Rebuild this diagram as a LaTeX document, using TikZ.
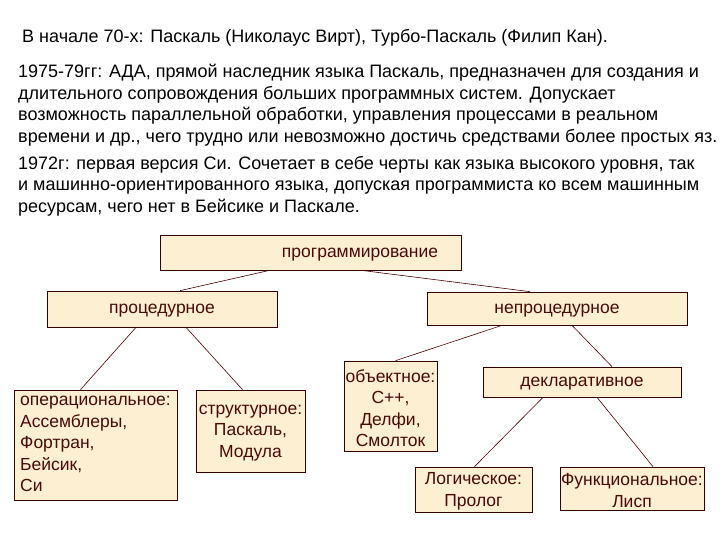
\documentclass[tikz,border=0pt]{standalone}
\usepackage{fontspec}
\setmainfont{Liberation Sans}
\begin{document}
\begin{tikzpicture}[x=1pt,y=-1pt,
  box/.style={draw=black!80!red,fill=boxfill,line width=0.7pt,inner sep=0pt},
  txt/.style={text=txtcol,font=\fontsize{17.5}{21.5}\selectfont,inner sep=0pt,yshift=-2pt},
  para/.style={anchor=north west,align=left,inner sep=0pt,font=\fontsize{18}{21.5}\selectfont},
  con/.style={draw=black!70!red,line width=0.6pt}]
\definecolor{boxfill}{HTML}{FCEFD2}
\definecolor{txtcol}{HTML}{4A0A0A}
\useasboundingbox (0,0) rectangle (720,540);
\node[para] (p1) at (22,29) {В начале 70-х: Паскаль (Николаус Вирт), Турбо-Паскаль (Филип Кан).};
\node[para] (p2) at (18,64) {1975-79гг: АДА, прямой наследник языка Паскаль, предназначен для создания и\\длительного сопровождения больших программных систем. Допускает\\возможность параллельной обработки, управления процессами в реальном\\времени и др., чего трудно или невозможно достичь средствами более простых яз.};
\node[para] (p3) at (18,156) {1972г: первая версия Си. Сочетает в себе черты как языка высокого уровня, так\\и машинно-ориентированного языка, допуская программиста ко всем машинным\\ресурсам, чего нет в Бейсике и Паскале.};

\node[box,minimum width=301,minimum height=35] (prog) at (310.5,252.5) {};
\node[txt] (progt) at (360,253) {программирование};
\node[box,minimum width=230,minimum height=36] (proc) at (162,309) {};
\node[txt] (proct) at (proc) {процедурное};
\node[box,minimum width=260,minimum height=33] (nproc) at (557,308.5) {};
\node[txt] (nproct) at (557,309) {непроцедурное};
\node[box,minimum width=163,minimum height=110] (op) at (95.5,445) {};
\node[txt,anchor=north west,align=left] (opt) at (20,394) {операциональное:\\Ассемблеры,\\Фортран,\\Бейсик,\\Си};
\node[box,minimum width=109,minimum height=82] (st) at (250.5,431) {};
\node[txt,align=center] (stt) at (250.5,431) {структурное:\\Паскаль,\\Модула};
\node[box,minimum width=93,minimum height=90] (ob) at (390.5,406) {};
\node[txt,align=center] (obt) at (390.5,406) {объектное:\\C++,\\Делфи,\\Смолток};
\node[box,minimum width=198,minimum height=30] (decl) at (582,382) {};
\node[txt] (declt) at (decl) {декларативное};
\node[box,minimum width=117,minimum height=45] (log) at (473.5,489.5) {};
\node[txt,align=center] (logt) at (log) {Логическое:\\Пролог};
\node[box,minimum width=144,minimum height=43] (fun) at (632,488.5) {};
\node[txt,align=center] (funt) at (fun) {Функциональное:\\Лисп};

\draw[con] (prog.south west)++(110,0) coordinate (a1) -- ([xshift=18]proc.north);
\draw[con] (prog.south east)++(-100,0) coordinate (a2) -- ([xshift=-27]nproc.north);
\draw[con] ([xshift=-26]proc.south) -- ([xshift=-15]op.north);
\draw[con] ([xshift=24]proc.south) -- ([xshift=-8]st.north);
\draw[con] ([xshift=-55]nproc.south) -- ([xshift=5]ob.north);
\draw[con] ([xshift=15]nproc.south) -- ([xshift=30]decl.north);
\draw[con] ([xshift=-39]decl.south) -- ([xshift=1]log.north);
\draw[con] ([xshift=15]decl.south) -- ([xshift=21]fun.north);
\end{tikzpicture}
\end{document}
